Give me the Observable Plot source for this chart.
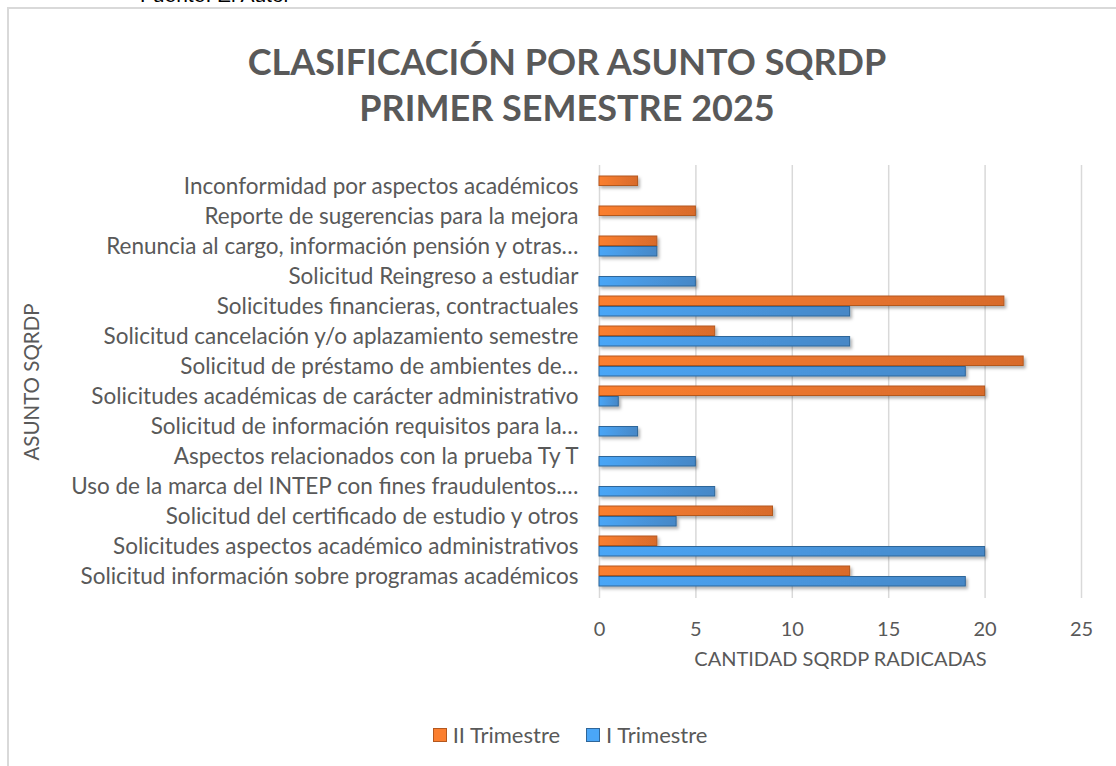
<!DOCTYPE html>
<html>
<head>
<meta charset="utf-8">
<script src="https://cdn.jsdelivr.net/npm/d3@7"></script>
<script src="https://cdn.jsdelivr.net/npm/@observablehq/plot@0.6"></script>
<style>
  html, body { margin: 0; padding: 0; width: 1116px; height: 766px; overflow: hidden; background: #fff; }
  body { position: relative; font-family: Lato, "Open Sans", sans-serif; }
  #fuente { position: absolute; left: 140px; top: -17px; font-family: "Liberation Sans", Arial, sans-serif; font-size: 21px; color: #000; white-space: nowrap; }
  #box { position: absolute; left: 7px; top: 7px; width: 1200px; height: 900px; border: 2px solid #d9d9d9; box-sizing: border-box; }
  #title { position: absolute; left: 0; width: 1134px; top: 38px; text-align: center; font-family: Lato, sans-serif; font-weight: 700; font-size: 36px; line-height: 46px; color: #595959; }
  #chart { position: absolute; left: 0; top: 140px; }
  #legend { position: absolute; left: 0; width: 1140px; top: 721px; display: flex; justify-content: center; gap: 26px; font-family: Lato, sans-serif; font-size: 22px; color: #595959; }
  .item { display: flex; align-items: center; gap: 6px; }
  .sw { width: 12px; height: 12px; border: 1px solid; }
</style>
</head>
<body>
<div id="fuente">Fuente: El Autor</div>
<div id="box"></div>
<div id="title">CLASIFICACIÓN POR ASUNTO SQRDP<br>PRIMER SEMESTRE 2025</div>
<div id="chart"></div>
<div id="legend"></div>
<script>
const categories = [
  "Inconformidad por aspectos académicos",
  "Reporte de sugerencias para la mejora",
  "Renuncia al cargo, información pensión y otras…",
  "Solicitud Reingreso a estudiar",
  "Solicitudes financieras, contractuales",
  "Solicitud cancelación y/o aplazamiento semestre",
  "Solicitud de préstamo de ambientes de…",
  "Solicitudes académicas de carácter administrativo",
  "Solicitud de información requisitos para la…",
  "Aspectos relacionados con la prueba Ty T",
  "Uso de la marca del INTEP con fines fraudulentos.…",
  "Solicitud del certificado de estudio y otros",
  "Solicitudes aspectos académico administrativos",
  "Solicitud información sobre programas académicos"
];
const seriesNames = ["II Trimestre", "I Trimestre"];
const trimestreII = [2, 5, 3, null, 21, 6, 22, 20, null, null, null, 9, 3, 13];
const trimestreI  = [null, null, 3, 5, 13, 13, 19, 1, 2, 5, 6, 4, 20, 19];
const xTicks = [0, 5, 10, 15, 20, 25];

const rowsII = categories.map((c, i) => ({asunto: c, valor: trimestreII[i]})).filter(d => d.valor != null);
const rowsI  = categories.map((c, i) => ({asunto: c, valor: trimestreI[i]})).filter(d => d.valor != null);

const gray = "#595959";
const grid = "#d9d9d9";

const chart = Plot.plot({
  width: 1116,
  height: 538,
  marginTop: 25,
  marginBottom: 80,
  marginLeft: 599,
  marginRight: 35,
  style: { fontFamily: "Lato, sans-serif", fontSize: "20px", color: gray, background: "transparent" },
  x: { domain: [0, 25], ticks: xTicks },
  y: { domain: categories, paddingInner: 0.32, paddingOuter: 0.16 },
  marks: [
    Plot.gridX(xTicks.filter(t => t > 0), { stroke: grid, strokeOpacity: 1, strokeWidth: 1.5 }),
    Plot.ruleX([0], { stroke: grid, strokeWidth: 1.5 }),
    Plot.barX(rowsII, { x: "valor", y: "asunto", insetBottom: 10.5, fill: "url(#gradO)", stroke: "#b3581f", strokeWidth: 1 }),
    Plot.barX(rowsI, { x: "valor", y: "asunto", insetTop: 10.5, fill: "url(#gradB)", stroke: "#2f6699", strokeWidth: 1 }),
    Plot.axisX(xTicks, { tickSize: 0, tickPadding: 23, fill: gray, fontSize: 20, label: null }),
    Plot.axisY({ tickSize: 0, tickPadding: 21, fill: gray, fontSize: 22.5, label: null }),
    Plot.text(["CANTIDAD SQRDP RADICADAS"], { frameAnchor: "bottom", dy: 67, fill: gray, fontSize: 20, text: d => d }),
    Plot.text(["ASUNTO SQRDP"], { frameAnchor: "left", dx: -567, rotate: -90, textAnchor: "middle", fill: gray, fontSize: 20.5, text: d => d })
  ]
});

// gradients and shadow
const ns = "http://www.w3.org/2000/svg";
const defs = document.createElementNS(ns, "defs");
defs.innerHTML = `
  <linearGradient id="gradO" x1="0" x2="1" y1="0" y2="0">
    <stop offset="0" stop-color="#fb7f2f"/><stop offset="1" stop-color="#d86b2c"/>
  </linearGradient>
  <linearGradient id="gradB" x1="0" x2="1" y1="0" y2="0">
    <stop offset="0" stop-color="#4aa6f7"/><stop offset="1" stop-color="#4687c6"/>
  </linearGradient>
  <filter id="sh" x="-5%" y="-50%" width="110%" height="250%">
    <feDropShadow dx="2" dy="2.5" stdDeviation="1.6" flood-color="#000" flood-opacity="0.3"/>
  </filter>`;
chart.insertBefore(defs, chart.firstChild);
chart.querySelectorAll('g[aria-label="bar"]').forEach(g => g.setAttribute("filter", "url(#sh)"));
document.getElementById("chart").appendChild(chart);

// legend
const legendColors = { "II Trimestre": ["#fb7f2f", "#b3581f"], "I Trimestre": ["#4aa6f7", "#2f6699"] };
const legend = document.getElementById("legend");
seriesNames.forEach(name => {
  const item = document.createElement("div");
  item.className = "item";
  const sw = document.createElement("span");
  sw.className = "sw";
  sw.style.background = legendColors[name][0];
  sw.style.borderColor = legendColors[name][1];
  const t = document.createElement("span");
  t.textContent = name;
  item.appendChild(sw); item.appendChild(t);
  legend.appendChild(item);
});
</script>
</body>
</html>
